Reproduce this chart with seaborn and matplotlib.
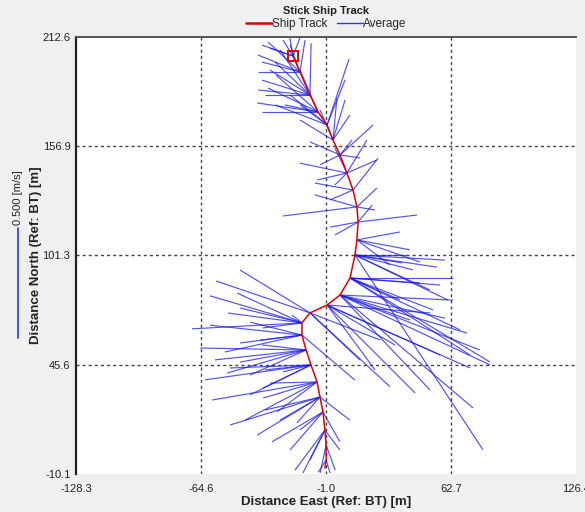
"""
Stick ship track: boat track (red) with depth-averaged water velocity sticks (blue).
"""
import matplotlib
matplotlib.use("Agg")
import numpy as np
import pandas as pd
import matplotlib.pyplot as plt
from matplotlib.collections import LineCollection
from matplotlib.lines import Line2D
import seaborn as sns

# ship track, ensemble positions (m, ref BT)
track_east = [-17.8, -14.2, -9.1, -5.0, -0.4, 2.6, 6.2, 9.7, 12.8, 14.8,
              15.4, 14.8, 13.8, 11.3, 6.2, -0.4, -9.1, -13.2, -13.2, -11.1,
              -8.6, -5.5, -4.0, -2.5, -1.5, -0.9, -0.9, -1.5]
track_north = [202.9, 194.8, 183.0, 174.4, 167.8, 160.1, 152.5, 143.3, 134.6, 126.0,
               118.3, 109.2, 101.5, 89.8, 81.1, 76.0, 72.0, 66.9, 60.7, 53.1,
               45.5, 36.8, 29.1, 21.5, 12.3, 4.7, -3.0, -7.0]

# sticks: ensemble index on the track + average water velocity (m/s)
stick_ens = [0, 0, 0, 1, 1, 1, 1, 2, 2, 2, 2, 2, 3, 3, 3, 3, 4, 4, 4,
             5, 5, 5, 5, 6, 6, 6, 6, 7, 7, 7, 7, 8, 8, 8, 9, 9, 9,
             10, 10, 10, 11, 11, 11, 12, 12, 12, 12, 12, 13, 13, 13, 13, 13,
             14, 14, 14, 14, 14, 15, 15, 15, 15, 16, 16, 16,
             17, 17, 17, 17, 17, 18, 18, 18, 18, 19, 19, 19, 19,
             20, 20, 20, 20, 21, 21, 21, 21, 22, 22, 22, 22,
             23, 23, 23, 24, 24, 24, 25, 25, 26, 26,
             0, 0, 1, 1, 2, 2, 3, 3, 4, 4, 5, 6, 7, 7, 9, 10, 11,
             12, 12, 12, 13, 13, 13, 14, 14, 14, 15, 15, 16, 16,
             17, 17, 18, 18, 19, 19, 20, 20, 21, 22, 22, 23, 24]
stick_ve = [-0.014, -0.141, 0.032, -0.191, 0.023, -0.191, -0.145,
            -0.218, 0.005, -0.205, -0.159, -0.136, -0.277, -0.227, -0.082, -0.150,
            0.100, -0.236, -0.168, 0.018, 0.055, -0.150, 0.077,
            0.150, -0.136, 0.091, 0.055, -0.214, 0.136, -0.136, -0.055,
            -0.173, 0.114, -0.105, -0.336, 0.091, 0.082,
            0.268, -0.127, 0.064, 0.241, 0.195, 0.150,
            0.236, 0.373, 0.264, 0.582, 0.214, 0.468, 0.377, 0.636, 0.545, 0.318,
            0.514, 0.577, 0.605, 0.682, 0.318, 0.400, 0.468, 0.514, 0.309,
            0.364, -0.318, 0.318, -0.295, -0.282, -0.500, -0.177, -0.045,
            -0.282, -0.418, 0.241, -0.236, -0.359, -0.300, -0.482, -0.200,
            -0.218, -0.482, -0.368, -0.209, -0.245, -0.182, -0.477, -0.214,
            -0.286, -0.105, -0.250, -0.409, -0.232, 0.077, -0.105,
            -0.100, 0.068, -0.068, -0.027, 0.041, -0.036, 0.018,
            -0.105, -0.045, -0.173, -0.045, -0.182, -0.236, -0.255, -0.191,
            -0.123, 0.082, -0.059, -0.091, -0.055, 0.091, -0.191, -0.105, 0.286,
            0.341, 0.423, 0.409, 0.500, 0.409, 0.227, 0.409, 0.636, 0.477,
            0.650, 0.218, 0.227, -0.427, -0.418, -0.336, -0.350, -0.191,
            -0.414, -0.255, -0.277, -0.127, -0.327, -0.182, 0.136, -0.150, -0.136]
stick_vn = [0.082, 0.050, 0.082, 0.077, 0.145, 0.000, 0.136,
            0.068, 0.236, 0.000, 0.150, 0.205, 0.041, 0.109, 0.191, 0.032,
            0.300, 0.091, 0.136, 0.191, 0.182, 0.091, 0.114,
            0.136, 0.059, -0.014, 0.068, 0.045, 0.059, -0.032, 0.114,
            0.032, 0.145, -0.045, -0.041, 0.086, -0.014,
            0.032, -0.023, 0.077, -0.045, 0.036, -0.114,
            0.000, -0.055, -0.068, -0.886, -0.036, 0.000, -0.145, -0.382, -0.350, -0.023,
            -0.023, -0.173, -0.514, -0.318, -0.114, -0.400, -0.036, -0.227, -0.182,
            -0.336, 0.195, -0.123, 0.136, 0.068, -0.027, -0.023, 0.036,
            -0.036, 0.045, -0.205, 0.059, -0.105, -0.055, 0.009, 0.023,
            -0.105, -0.068, -0.014, -0.023, -0.073, -0.136, -0.082, -0.005,
            -0.173, -0.118, -0.059, -0.127, -0.136, -0.136, -0.082,
            -0.195, -0.091, -0.136, -0.127, -0.114, -0.055, -0.059,
            0.036, 0.073, 0.045, 0.123, 0.114, 0.023, 0.000, 0.168,
            0.091, 0.205, 0.136, -0.045, -0.055, 0.150, 0.055, -0.059, -0.100,
            -0.159, -0.205, -0.023, -0.236, -0.032, -0.100, -0.432, -0.250, -0.105,
            -0.286, -0.295, -0.214, 0.145, 0.123, 0.045, -0.077, -0.023,
            -0.045, -0.114, -0.136, -0.032, -0.173, -0.105, -0.105, -0.173, -0.182]

x_ticks = [-128.3, -64.6, -1.0, 62.7, 126.4]
y_ticks = [-10.1, 45.6, 101.3, 156.9, 212.6]

scale_speed = 0.5   # m/s shown by the scale bar
scale_len = 56.0    # metres drawn for scale_speed

sns.set_theme(style="white")
plt.rcParams["font.family"] = ["Liberation Sans", "DejaVu Sans"]

track = pd.DataFrame({"east": track_east, "north": track_north})
sticks = pd.DataFrame({"ens": stick_ens, "ve": stick_ve, "vn": stick_vn})
sticks["x0"] = track["east"].values[sticks["ens"]]
sticks["y0"] = track["north"].values[sticks["ens"]]
k = scale_len / scale_speed
sticks["x1"] = sticks["x0"] + sticks["ve"] * k
sticks["y1"] = sticks["y0"] + sticks["vn"] * k

fig = plt.figure(figsize=(5.85, 5.12), dpi=100, facecolor="#f0f0f0")
ax = fig.add_axes([76 / 585, 1 - 474 / 512, 500 / 585, 437 / 512])
ax.set_facecolor("white")

# grid only on the inner ticks
for xv in x_ticks[1:-1]:
    ax.axvline(xv, color="#444444", lw=1.0, ls=(0, (2.2, 2.2)), zorder=1)
for yv in y_ticks[1:-1]:
    ax.axhline(yv, color="#444444", lw=1.0, ls=(0, (2.2, 2.2)), zorder=1)

segs = [[(r.x0, r.y0), (r.x1, r.y1)] for r in sticks.itertuples()]
ax.add_collection(LineCollection(segs, colors="#1a1ae6", linewidths=0.85,
                                 alpha=0.75, zorder=2))

sns.lineplot(data=track, x="east", y="north", sort=False, estimator=None,
             color="#e00000", lw=1.1, ax=ax, zorder=3)
ax.plot(track_east[0], track_north[0], marker="s", ms=6.5, mfc="none",
        mec="#e00000", mew=1.4, zorder=4)

ax.set_xlim(x_ticks[0], x_ticks[-1])
ax.set_ylim(y_ticks[0], y_ticks[-1])
ax.set_xticks(x_ticks)
ax.set_yticks(y_ticks)
ax.set_xticklabels([f"{v:.1f}" for v in x_ticks])
ax.set_yticklabels([f"{v:.1f}" for v in y_ticks])
ax.tick_params(axis="both", labelsize=8, colors="#222222", length=3, width=1)
ax.tick_params(axis="x", pad=4)
ax.tick_params(axis="y", pad=1)

for side in ["right", "bottom"]:
    ax.spines[side].set_visible(False)
ax.spines["left"].set_color("#222222")
ax.spines["left"].set_linewidth(1.6)
ax.spines["top"].set_color("#555555")
ax.spines["top"].set_linewidth(1.4)

ax.set_xlabel("Distance East (Ref: BT) [m]", fontsize=9.5, fontweight="bold",
              labelpad=2, color="#222222")
ax.set_ylabel("Distance North (Ref: BT) [m]", fontsize=9.5, fontweight="bold",
              color="#222222")
ax.yaxis.set_label_coords(-0.068, 0.5)

fig.text(326 / 585, 1 - 11 / 512, "Stick Ship Track", ha="center", va="center",
         fontsize=8, fontweight="bold", color="#222222")
handles = [Line2D([], [], color="#e00000", lw=1.8),
           Line2D([], [], color="#3030e6", lw=1)]
fig.legend(handles, ["Ship Track", "Average"], loc="center",
           bbox_to_anchor=(326 / 585, 1 - 24 / 512), ncol=2, frameon=False,
           fontsize=8.5, handlelength=2.2, handletextpad=0.0, columnspacing=0.8,
           borderpad=0)

# velocity scale bar left of the axis
fig.add_artist(Line2D([18 / 585, 18 / 585], [1 - 228 / 512, 1 - 338 / 512],
                      color="#3030e6", lw=1.2))
fig.text(18 / 585, 1 - 225 / 512, f"{scale_speed:.3f} [m/s]", rotation=90,
         ha="center", va="bottom", fontsize=8, color="#222222")

fig.savefig("out.png", dpi=100, facecolor=fig.get_facecolor())
